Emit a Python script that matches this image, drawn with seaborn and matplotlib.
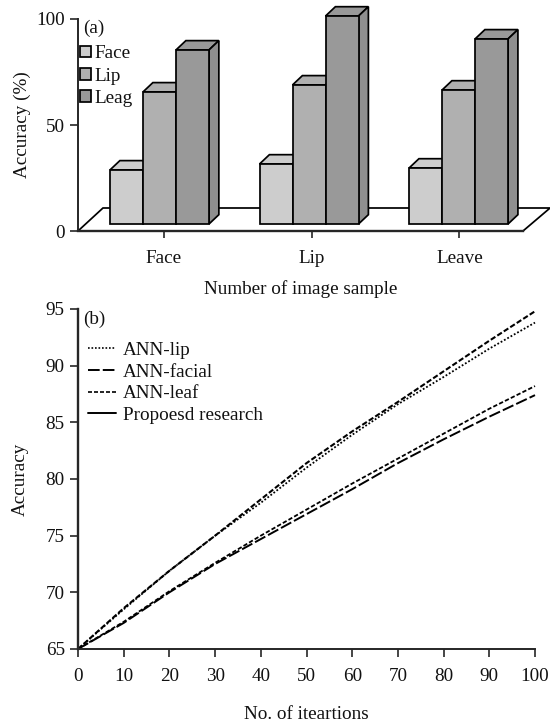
import matplotlib

matplotlib.use("Agg")

import matplotlib.pyplot as plt
import pandas as pd
import seaborn as sns
from matplotlib.lines import Line2D
from matplotlib.patches import Polygon


W, H = 550, 723

SAMPLES = ["Face", "Lip", "Leave"]
LEGEND_A = ["Face", "Lip", "Leag"]
FACE_ACC = [28.8, 31.6, 29.7]
LIP_ACC = [65.6, 68.9, 66.5]
LEAF_ACC = [85.4, 101.4, 90.6]
YTICKS_A = [0, 50, 100]

ITERATIONS = [0, 10, 20, 30, 40, 50, 60, 70, 80, 90, 100]
ANN_LIP = [65.0, 68.5, 71.9, 75.0, 77.9, 81.0, 83.9, 86.6, 89.0, 91.5, 93.8]
ANN_FACIAL = [65.0, 67.3, 70.0, 72.5, 74.7, 76.9, 79.1, 81.4, 83.5, 85.5, 87.4]
ANN_LEAF = [65.0, 67.4, 70.1, 72.6, 75.0, 77.3, 79.6, 81.8, 84.0, 86.2, 88.2]
PROPOSED = [65.0, 68.6, 71.9, 75.0, 78.2, 81.4, 84.2, 86.8, 89.5, 92.2, 94.8]
XTICKS_B = [0, 10, 20, 30, 40, 50, 60, 70, 80, 90, 100]
YTICKS_B = [65, 70, 75, 80, 85, 90, 95]

BAR_COLORS = ["#cdcdcd", "#b0b0b0", "#999999"]
FLOOR = 3.3
DEPTH_X = 0.066
DEPTH_Y = 4.4
EDGE = 1.25
FONT = 13.8


def px_axes(fig, left, top, right, bottom):
    return fig.add_axes([left / W, 1 - bottom / H, (right - left) / W, (bottom - top) / H])


def draw_bars(ax):
    df = pd.DataFrame({
        "sample": SAMPLES * 3,
        "accuracy": FACE_ACC + LIP_ACC + LEAF_ACC,
        "kind": [k for k in LEGEND_A for _ in SAMPLES],
    })
    sns.barplot(
        data=df,
        x="sample",
        y="accuracy",
        hue="kind",
        palette=BAR_COLORS,
        saturation=1,
        width=0.662,
        gap=0,
        edgecolor="black",
        linewidth=EDGE,
        errorbar=None,
        ax=ax,
    )

    ax.add_patch(Polygon(
        [(-0.545, 0), (-0.378, 10.85), (2.612, 10.85), (2.431, 0)],
        closed=True, facecolor="white", edgecolor="black", linewidth=EDGE,
        clip_on=False, zorder=1,
    ))

    for i, container in enumerate(ax.containers):
        for j, bar in enumerate(container):
            top = bar.get_height()
            x0 = bar.get_x()
            x1 = x0 + bar.get_width()
            bar.set_y(FLOOR)
            bar.set_height(top - FLOOR)
            z = 3 + j * 10 + i * 2
            bar.set_zorder(z + 1)
            bar.set_clip_on(False)
            ax.add_patch(Polygon(
                [(x0, top), (x0 + DEPTH_X, top + DEPTH_Y), (x1 + DEPTH_X, top + DEPTH_Y), (x1, top)],
                closed=True, facecolor=BAR_COLORS[i], edgecolor="black", linewidth=EDGE,
                clip_on=False, zorder=z,
            ))
            ax.add_patch(Polygon(
                [(x1, FLOOR), (x1 + DEPTH_X, FLOOR + DEPTH_Y), (x1 + DEPTH_X, top + DEPTH_Y), (x1, top)],
                closed=True, facecolor="#8f8f8f", edgecolor="black", linewidth=EDGE,
                clip_on=False, zorder=z,
            ))


def plot_panel_a(fig):
    ax = px_axes(fig, 78, 19, 523, 231)
    draw_bars(ax)

    ax.set_xlim(-0.545, 2.431)
    ax.set_ylim(0, 100)
    ax.set_yticks(YTICKS_A)
    ax.set_xticks([0.03, 1.02, 2.006], SAMPLES)
    ax.tick_params(axis="y", length=5.5, width=1.2, pad=4, labelsize=FONT)
    ax.tick_params(axis="x", length=5, width=1.2, pad=9, labelsize=FONT)
    ax.set_xlabel("Number of image sample", fontsize=FONT, labelpad=9)
    ax.set_ylabel("Accuracy (%)", fontsize=FONT, labelpad=4)
    sns.despine(ax=ax)
    ax.spines["left"].set_linewidth(1.4)
    ax.spines["bottom"].set_linewidth(1.7)
    ax.spines["bottom"].set_zorder(50)

    leg = ax.legend(
        loc="upper left",
        bbox_to_anchor=(0.005, 0.875),
        frameon=False,
        fontsize=FONT,
        handlelength=0.55,
        handleheight=0.55,
        handletextpad=0.22,
        labelspacing=0.27,
        borderpad=0,
        borderaxespad=0,
    )
    leg.set_zorder(60)
    ax.text(0.011, 0.958, "(a)", transform=ax.transAxes, fontsize=FONT, va="center", zorder=60)


def plot_panel_b(fig):
    ax = px_axes(fig, 78, 309, 535, 649)
    df = pd.DataFrame({
        "iter": ITERATIONS,
        "ANN-lip": ANN_LIP,
        "ANN-facial": ANN_FACIAL,
        "ANN-leaf": ANN_LEAF,
        "Propoesd research": PROPOSED,
    })
    styles = {
        "ANN-lip": ((0, (1, 1.1)), 1.3),
        "ANN-facial": ((0, (6, 1.6)), 1.4),
        "ANN-leaf": ((0, (2.4, 1.2)), 1.3),
        "Propoesd research": ((0, (2.6, 1.1)), 1.5),
    }
    for name, (ls, lw) in styles.items():
        sns.lineplot(data=df, x="iter", y=name, color="black", linestyle=ls, linewidth=lw,
                     errorbar=None, ax=ax, clip_on=False)

    ax.set_xlim(0, 100)
    ax.set_ylim(65, 95)
    ax.set_xticks(XTICKS_B)
    ax.set_yticks(YTICKS_B)
    ax.tick_params(axis="both", length=5.5, width=1.2, pad=4, labelsize=FONT)
    ax.tick_params(axis="x", pad=8)
    ax.set_xlabel("No. of iteartions", fontsize=FONT, labelpad=15)
    ax.set_ylabel("Accuracy", fontsize=FONT, labelpad=12)
    sns.despine(ax=ax)
    ax.spines["left"].set_linewidth(1.7)
    ax.spines["bottom"].set_linewidth(1.4)

    handles = [
        Line2D([], [], color="black", linestyle=(0, (1, 1.1)), linewidth=1.2),
        Line2D([], [], color="black", linestyle=(0, (6, 1.6)), linewidth=1.4),
        Line2D([], [], color="black", linestyle=(0, (2.4, 1.2)), linewidth=1.2),
        Line2D([], [], color="black", linewidth=1.4),
    ]
    ax.legend(
        handles,
        list(styles),
        loc="upper left",
        bbox_to_anchor=(0.022, 0.905),
        frameon=False,
        fontsize=FONT,
        handlelength=1.47,
        handletextpad=0.36,
        labelspacing=0.23,
        borderpad=0,
        borderaxespad=0,
    )
    ax.text(0.011, 0.97, "(b)", transform=ax.transAxes, fontsize=FONT, va="center")


def main():
    sns.set_style("ticks")
    plt.rcParams["font.family"] = ["Liberation Serif", "DejaVu Serif"]
    plt.rcParams["text.color"] = "#111111"
    plt.rcParams["axes.labelcolor"] = "#111111"
    plt.rcParams["xtick.labelcolor"] = "#111111"
    plt.rcParams["ytick.labelcolor"] = "#111111"

    fig = plt.figure(figsize=(W / 100, H / 100), dpi=100)
    plot_panel_a(fig)
    plot_panel_b(fig)
    fig.savefig("out.png", dpi=100)
    plt.close(fig)


if __name__ == "__main__":
    main()
